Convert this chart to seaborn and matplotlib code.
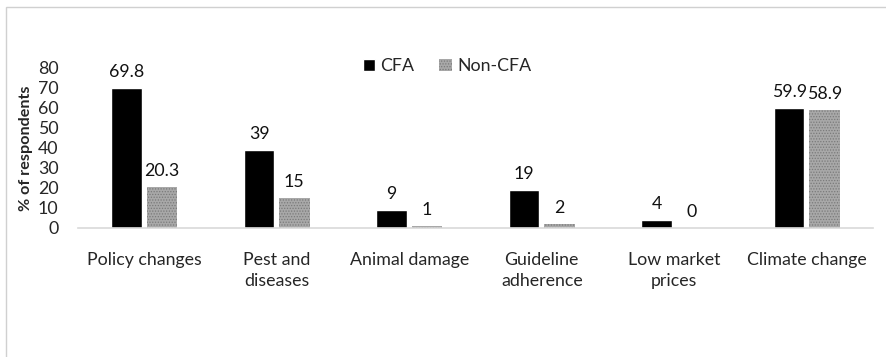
import matplotlib
matplotlib.use("Agg")
import matplotlib.pyplot as plt
import seaborn as sns
import pandas as pd
from matplotlib.patches import Rectangle

categories = ["Policy changes", "Pest and\ndiseases", "Animal damage", "Guideline\nadherence", "Low market\nprices", "Climate change"]
cfa = [69.8, 39, 9, 19, 4, 59.9]
non_cfa = [20.3, 15, 1, 2, 0, 58.9]
labels_cfa = ["69.8", "39", "9", "19", "4", "59.9"]
labels_non = ["20.3", "15", "1", "2", "0", "58.9"]
series = ["CFA", "Non-CFA"]

df = pd.DataFrame({
    "cat": categories * 2,
    "val": cfa + non_cfa,
    "grp": [series[0]] * len(categories) + [series[1]] * len(categories),
})

sns.set_theme(style="white")
plt.rcParams['font.family'] = ['Lato', 'DejaVu Sans']
plt.rcParams['hatch.linewidth'] = 0.6

FS = 12.8

fig = plt.figure(figsize=(8.86, 3.57), dpi=100)
ax = fig.add_axes([78/886, 129/357, 795/886, 160/357])

sns.barplot(data=df, x="cat", y="val", hue="grp", palette={"CFA": "#000000", "Non-CFA": "#a8a8a8"},
            width=0.53, gap=0.13, ax=ax, legend=False)

n = len(categories)
for i, p in enumerate(ax.patches[:2 * n]):
    if i >= n:
        p.set_hatch("......")
        p.set_edgecolor("#7a7a7a")
        p.set_linewidth(0)
        lab = labels_non[i - n]
    else:
        lab = labels_cfa[i]
    ax.text(p.get_x() + p.get_width() / 2, p.get_height() + 4, lab,
            ha="center", va="bottom", fontsize=FS, color="#111111")

ax.set_ylim(0, 80)
ax.set_yticks(range(0, 81, 10))
ax.set_xlim(-0.5, n - 0.5)
ax.set_xlabel("")
ax.set_ylabel("% of respondents", fontsize=11.6, fontweight="bold")
ax.yaxis.set_label_coords(-45/795, 0.5)
ax.tick_params(axis="y", labelsize=FS, length=0, pad=14)
ax.tick_params(axis="x", labelsize=FS, length=0, pad=17)
for lbl in ax.get_xticklabels():
    lbl.set_linespacing(1.45)
for s in ["top", "right", "left"]:
    ax.spines[s].set_visible(False)
ax.spines["bottom"].set_color("#d9d9d9")
ax.spines["bottom"].set_linewidth(1.2)

# legend
h1 = Rectangle((0, 0), 1, 1, facecolor="#000000")
h2 = Rectangle((0, 0), 1, 1, facecolor="#a8a8a8", hatch="......", edgecolor="#7a7a7a", linewidth=0)
fig.legend([h1, h2], series, loc="center", bbox_to_anchor=(447/886, 1 - 66/357), ncol=2,
           frameon=False, fontsize=FS, handlelength=0.7, handleheight=0.7,
           handletextpad=0.3, columnspacing=1.4)

# outer frame
fig.patches.append(Rectangle((6/886, -0.1), 1.1, 1 - 7/357 + 0.1, transform=fig.transFigure,
                             fill=False, edgecolor="#d0d0d0", linewidth=1.0))

fig.savefig("out.png", dpi=100)
